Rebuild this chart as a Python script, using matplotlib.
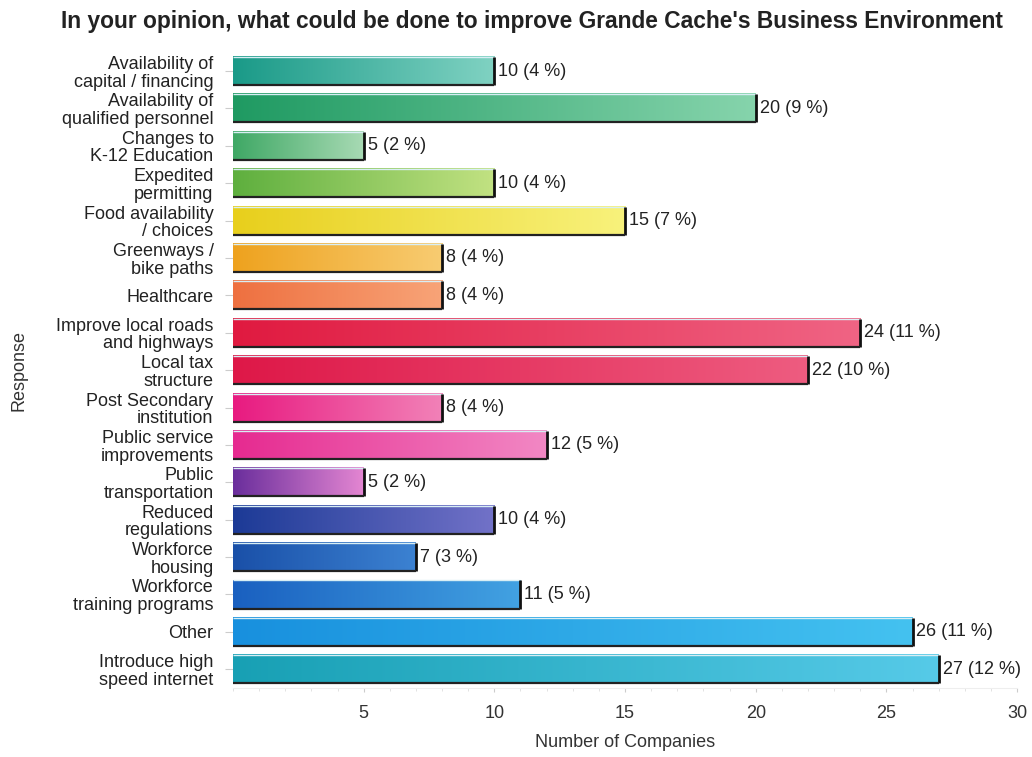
import matplotlib
matplotlib.use("Agg")
import matplotlib.pyplot as plt
import numpy as np
from matplotlib.colors import LinearSegmentedColormap

plt.rcParams["font.family"] = ["Liberation Sans", "DejaVu Sans"]

categories = [
    "Availability of\ncapital / financing",
    "Availability of\nqualified personnel",
    "Changes to\nK-12 Education",
    "Expedited\npermitting",
    "Food availability\n/ choices",
    "Greenways /\nbike paths",
    "Healthcare",
    "Improve local roads\nand highways",
    "Local tax\nstructure",
    "Post Secondary\ninstitution",
    "Public service\nimprovements",
    "Public\ntransportation",
    "Reduced\nregulations",
    "Workforce\nhousing",
    "Workforce\ntraining programs",
    "Other",
    "Introduce high\nspeed internet",
]
counts = [10, 20, 5, 10, 15, 8, 8, 24, 22, 8, 12, 5, 10, 7, 11, 26, 27]
percents = [4, 9, 2, 4, 7, 4, 4, 11, 10, 4, 5, 2, 4, 3, 5, 11, 12]
colors_left = ["#1a9a88", "#1f9a62", "#3fa865", "#5eaf3e", "#e8cf1c", "#eea21e",
               "#ee7040", "#e01a40", "#de1848", "#e81a80", "#e62a90", "#6a2e9c",
               "#1c3a96", "#1a50a8", "#1a60c0", "#1890de", "#18a0b4"]
colors_right = ["#80d2c2", "#86d4ac", "#a8dab4", "#c2e282", "#f8f27c", "#f8cc72",
                "#f8a478", "#f06484", "#ee5c80", "#f282b8", "#f288c4", "#e486d2",
                "#7272c8", "#3c82d2", "#42a2e2", "#44c2f0", "#56cae8"]
xticks = [5, 10, 15, 20, 25, 30]

fig = plt.figure(figsize=(10.32, 7.57), dpi=100)
ax = fig.add_axes([0.2258, 0.0912, 0.7597, 0.8397])

n = len(categories)
ypos = np.arange(n)
bars = ax.barh(ypos, counts, height=0.75, color="none", edgecolor="none")
grad = np.linspace(0, 1, 256).reshape(1, -1)
for i, b in enumerate(bars):
    x0, y0, w, h = b.get_x(), b.get_y(), b.get_width(), b.get_height()
    cmap = LinearSegmentedColormap.from_list(f"c{i}", [colors_left[i], colors_right[i]])
    ax.imshow(grad, extent=[x0, x0 + w, y0 + h, y0], cmap=cmap, aspect="auto",
              interpolation="bilinear", zorder=2)
    ax.plot([x0, x0 + w], [y0, y0], color="#d8eef4", lw=1.0, zorder=3,
            solid_capstyle="butt")
    ax.plot([x0 + w, x0 + w], [y0, y0 + h], color="#111111", lw=2.0, zorder=3,
            solid_capstyle="butt")
    ax.plot([x0, x0 + w], [y0 + h, y0 + h], color="#222222", lw=1.6, zorder=3,
            solid_capstyle="butt")
    ax.text(x0 + w + 0.15, ypos[i], f"{counts[i]} ({percents[i]} %)", va="center",
            ha="left", fontsize=13, color="#222222", zorder=4)

ax.set_xlim(0, 30)
ax.set_ylim(n - 0.5, -0.5)
ax.set_yticks(ypos)
ax.set_yticklabels(categories, fontsize=13, color="#222222", linespacing=1.05)
ax.set_xticks(xticks)
ax.set_xticklabels([str(t) for t in xticks], fontsize=13, color="#333333")
ax.set_xticks(np.arange(0, 31, 1), minor=True)
ax.tick_params(axis="x", which="major", length=3, color="#cccccc", pad=9)
ax.tick_params(axis="x", which="minor", length=2, color="#dddddd")
ax.tick_params(axis="y", length=6, color="#cccccc", pad=8)
for s in ["top", "right", "left"]:
    ax.spines[s].set_visible(False)
ax.spines["bottom"].set_color("#eeeeee")
ax.set_xlabel("Number of Companies", fontsize=13, color="#333333", labelpad=9)
ax.set_ylabel("Response", fontsize=13, color="#333333")
ax.yaxis.set_label_coords(-0.262, 0.5)
fig.text(0.515, 0.972, "In your opinion, what could be done to improve Grande Cache's Business Environment",
         ha="center", va="center", fontsize=16.4, fontweight="bold", color="#222222")
fig.savefig("out.png", dpi=100)
